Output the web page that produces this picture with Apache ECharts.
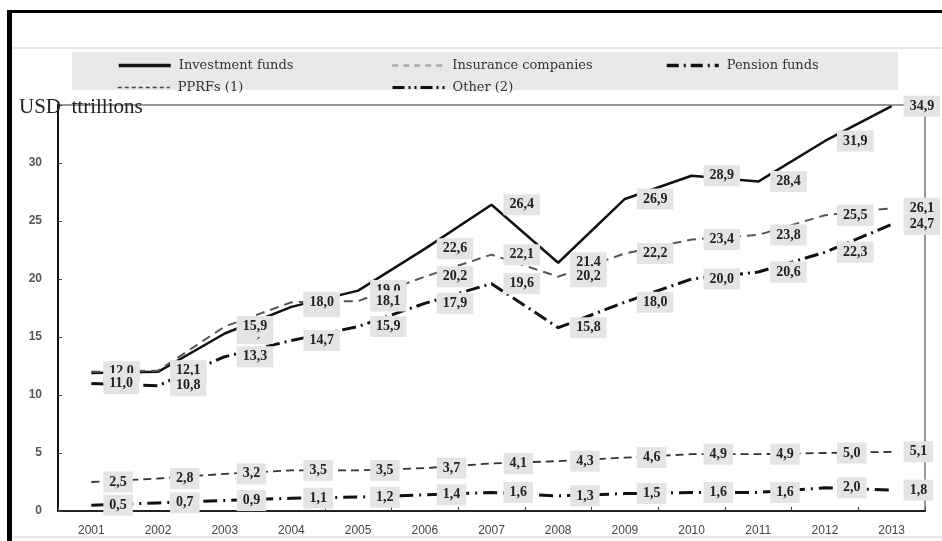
<!DOCTYPE html>
<html>
<head>
<meta charset="utf-8">
<script src="https://cdn.jsdelivr.net/npm/echarts@6/dist/echarts.min.js"></script>
<style>html,body{margin:0;padding:0;background:#fff;}#c{width:942px;height:541px;}</style>
</head>
<body>
<div id="c"></div>
<script>
var years = ['2001','2002','2003','2004','2005','2006','2007','2008','2009','2010','2011','2012','2013'];
var investmentFunds = [11.9, 12.0, 15.3, 17.6, 19.0, 22.6, 26.4, 21.4, 26.9, 28.9, 28.4, 31.9, 34.9];
var insuranceCompanies = [12.0, 12.1, 15.9, 18.0, 18.1, 20.2, 22.1, 20.2, 22.2, 23.4, 23.8, 25.5, 26.1];
var pensionFunds = [11.0, 10.8, 13.3, 14.7, 15.9, 17.9, 19.6, 15.8, 18.0, 20.0, 20.6, 22.3, 24.7];
var pprfs = [2.5, 2.8, 3.2, 3.5, 3.5, 3.7, 4.1, 4.3, 4.6, 4.9, 4.9, 5.0, 5.1];
var other = [0.5, 0.7, 0.9, 1.1, 1.2, 1.4, 1.6, 1.3, 1.5, 1.6, 1.6, 2.0, 1.8];
var yTicks = [0, 5, 10, 15, 20, 25, 30, 35];

var chart = echarts.init(document.getElementById('c'));

function lbl() {
  return {
    show: true, position: 'right', distance: 11,
    formatter: function (p) { return p.value.toFixed(1).replace('.', ','); },
    fontFamily: 'Liberation Serif', fontWeight: 'bold', fontSize: 14, color: '#222',
    backgroundColor: '#e4e4e4', padding: [4, 6, 3, 6]
  };
}
function mkSeries(name, data, color, width, type) {
  return {
    name: name, type: 'line', data: data,
    symbol: 'circle', symbolSize: 2, showSymbol: true,
    itemStyle: { color: 'rgba(0,0,0,0)', borderWidth: 0 },
    lineStyle: { color: color, width: width, type: type },
    label: lbl(), emphasis: { disabled: true }, animation: false, z: 2
  };
}
function mkLegend(name, left, top, ls) {
  var l = {
    data: [name],
    left: left, top: top, itemWidth: 52, itemHeight: 12,
    textStyle: { fontFamily: 'DejaVu Serif', fontSize: 13, color: '#333', padding: [0, 0, 0, 3] },
    selectedMode: false
  };
  if (ls) { l.lineStyle = ls; }
  return l;
}

chart.setOption({
  animation: false,
  backgroundColor: '#fff',
  graphic: [
    { type: 'rect', shape: { x: 7, y: 10, width: 5, height: 531 }, style: { fill: '#000' }, z: 10 },
    { type: 'rect', shape: { x: 7, y: 10, width: 935, height: 3 }, style: { fill: '#000' }, z: 10 },
    { type: 'line', shape: { x1: 13, y1: 48, x2: 942, y2: 48 }, style: { stroke: '#cfcfcf', lineWidth: 1 }, z: 0 },
    { type: 'rect', shape: { x: 72, y: 52, width: 826, height: 38 }, style: { fill: '#e8e8e8' }, z: -10 },
    { type: 'rect', shape: { x: 13, y: 536, width: 929, height: 5 }, style: { fill: '#fff' }, z: 20 },
    { type: 'line', shape: { x1: 13, y1: 537, x2: 942, y2: 537 }, style: { stroke: '#cfcfcf', lineWidth: 1 }, z: 21 },
    { type: 'text', left: 19, top: 97, style: { text: 'USD  ttrillions', font: '21px "Liberation Serif"', fill: '#222' }, z: 50 }
  ],
  legend: [
    mkLegend('Investment funds', 112, 54, { color: '#111', width: 3.5, type: 'solid' }),
    mkLegend('Insurance companies', 386, 54, { color: '#aaa', width: 2.5, type: [6, 5] }),
    mkLegend('Pension funds', 660, 54, { color: '#111', width: 3.5, type: [12, 5, 2, 5] }),
    mkLegend('PPRFs (1)', 112, 76, { color: '#444', width: 1.5, type: [4, 3] }),
    mkLegend('Other (2)', 386, 76, { color: '#111', width: 3, type: [12, 4, 2, 4, 2, 4] })
  ],
  grid: { left: 58, right: 17, top: 105, bottom: 30, show: true, borderColor: '#777', borderWidth: 1.5, backgroundColor: 'transparent' },
  xAxis: {
    type: 'category', data: years, boundaryGap: true,
    axisLine: { lineStyle: { color: '#222', width: 2 } },
    axisTick: { show: true, inside: true, length: 4, interval: 0, lineStyle: { color: '#444' } },
    axisLabel: { fontFamily: 'Liberation Sans', fontSize: 12, color: '#444', margin: 14 }
  },
  yAxis: {
    type: 'value', min: yTicks[0], max: yTicks[yTicks.length - 1], interval: 5,
    splitLine: { show: false },
    axisLine: { show: true, lineStyle: { color: '#111', width: 2 } },
    axisTick: { show: true, inside: true, length: 4, lineStyle: { color: '#444' } },
    axisLabel: { fontFamily: 'Liberation Sans', fontSize: 12, fontWeight: 'bold', color: '#555', margin: 16,
      formatter: function (v) { return v === 35 ? '' : String(v); } }
  },
  series: [
    mkSeries('Investment funds', investmentFunds, '#111', 2.5, 'solid'),
    mkSeries('Insurance companies', insuranceCompanies, '#555', 2, [9, 6]),
    mkSeries('Pension funds', pensionFunds, '#111', 3, [14, 5, 2, 5]),
    mkSeries('PPRFs (1)', pprfs, '#333', 1.8, [8, 5]),
    mkSeries('Other (2)', other, '#111', 3, [14, 6, 2, 6])
  ]
});
</script>
</body>
</html>
